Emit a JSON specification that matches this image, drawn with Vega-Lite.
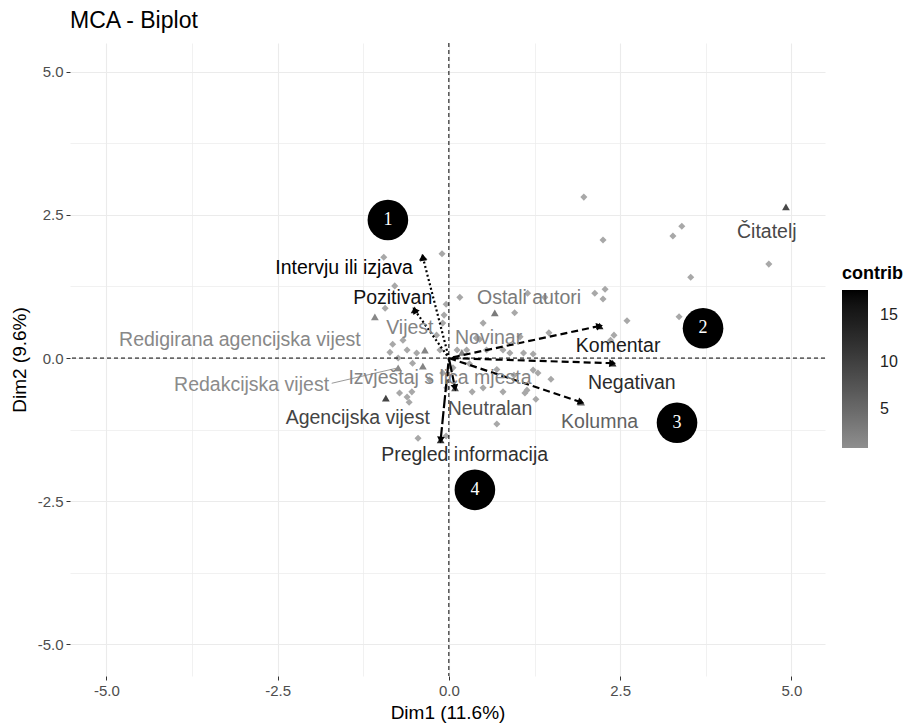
{
  "$schema": "https://vega.github.io/schema/vega-lite/v6.json",
  "width": 755,
  "height": 633,
  "autosize": {"type": "none"},
  "padding": {"left": 70, "top": 43, "right": 90, "bottom": 47},
  "background": "white",
  "config": {"view": {"stroke": null}, "font": "Liberation Sans"},
  "title": {"text": "MCA - Biplot", "anchor": "start", "frame": "group", "fontSize": 23, "fontWeight": "normal", "color": "#000000", "font": "Liberation Sans", "offset": 10},
  "datasets": {
    "ind": [
      {"x": 1.97, "y": 2.81}, {"x": 2.25, "y": 2.06}, {"x": 3.27, "y": 2.13}, {"x": 3.40, "y": 2.30},
      {"x": 4.67, "y": 1.64}, {"x": 3.53, "y": 1.41}, {"x": 2.13, "y": 1.13}, {"x": 2.28, "y": 1.20},
      {"x": 2.25, "y": 1.03}, {"x": 2.60, "y": 0.65}, {"x": 3.36, "y": 0.72}, {"x": 2.41, "y": 0.40},
      {"x": 2.36, "y": 0.31}, {"x": 1.46, "y": 0.44}, {"x": 1.09, "y": 0.09}, {"x": 1.23, "y": 0.07},
      {"x": 1.30, "y": -0.26}, {"x": 1.49, "y": -0.37}, {"x": 1.27, "y": -0.72}, {"x": -0.10, "y": 1.82},
      {"x": -0.95, "y": 1.76}, {"x": -0.79, "y": 1.26}, {"x": -0.93, "y": 0.87}, {"x": -0.04, "y": 0.94},
      {"x": -0.07, "y": 0.75}, {"x": 0.16, "y": 1.06}, {"x": 0.50, "y": 0.61}, {"x": 0.96, "y": 0.79},
      {"x": 1.15, "y": 1.13}, {"x": 1.40, "y": 1.06}, {"x": -0.82, "y": 0.24}, {"x": -0.67, "y": 0.31},
      {"x": -0.86, "y": 0.10}, {"x": -0.74, "y": 0.00}, {"x": -0.61, "y": 0.14}, {"x": -0.47, "y": 0.09},
      {"x": 0.45, "y": 0.33}, {"x": 1.04, "y": 0.37}, {"x": 0.89, "y": 0.09}, {"x": -0.18, "y": 0.40},
      {"x": -0.09, "y": 0.61}, {"x": -0.13, "y": 0.14}, {"x": 0.26, "y": 0.14}, {"x": 0.55, "y": 0.14},
      {"x": -0.53, "y": -0.09}, {"x": -0.72, "y": -0.61}, {"x": -0.61, "y": -0.68}, {"x": -0.58, "y": -0.77},
      {"x": -0.28, "y": -0.38}, {"x": -0.45, "y": -1.40}, {"x": -0.04, "y": -1.36}, {"x": -0.03, "y": -0.52},
      {"x": 0.34, "y": -0.59}, {"x": 0.50, "y": -0.52}, {"x": 0.79, "y": -0.59}, {"x": 0.70, "y": -1.15},
      {"x": 1.11, "y": -0.61}, {"x": 0.79, "y": 0.14}, {"x": 0.12, "y": 0.14}, {"x": -0.09, "y": -0.26},
      {"x": 0.06, "y": -0.17}, {"x": -0.54, "y": -0.59}, {"x": 1.14, "y": -0.56}, {"x": 1.23, "y": -0.21},
      {"x": 0.30, "y": -0.10}, {"x": 0.70, "y": -0.20}, {"x": 0.95, "y": -0.30}, {"x": 0.40, "y": 0.35}
    ],
    "cat": [
      {"name": "Čitatelj", "x": 4.92, "y": 2.64, "contrib": 9, "lx": 4.64, "ly": 2.20},
      {"name": "Komentar", "x": 2.20, "y": 0.56, "contrib": 15, "lx": 2.47, "ly": 0.21, "group": "2"},
      {"name": "Negativan", "x": 2.39, "y": -0.09, "contrib": 12.5, "lx": 2.67, "ly": -0.44, "group": "3"},
      {"name": "Kolumna", "x": 1.93, "y": -0.77, "contrib": 6, "lx": 2.20, "ly": -1.12, "group": "3"},
      {"name": "Pregled informacija", "x": -0.12, "y": -1.43, "contrib": 12, "lx": 0.23, "ly": -1.69, "group": "4"},
      {"name": "Neutralan", "x": 0.09, "y": -0.52, "contrib": 8, "lx": 0.60, "ly": -0.89, "group": "4"},
      {"name": "Pozitivan", "x": -0.50, "y": 0.84, "contrib": 16, "lx": -0.82, "ly": 1.05, "group": "1"},
      {"name": "Intervju ili izjava", "x": -0.38, "y": 1.76, "contrib": 17.5, "lx": -1.53, "ly": 1.57, "group": "1"},
      {"name": "Agencijska vijest", "x": -0.92, "y": -0.70, "contrib": 9.5, "lx": -1.33, "ly": -1.05},
      {"name": "Redigirana agencijska vijest", "x": -1.08, "y": 0.72, "contrib": 1.5, "lx": -3.05, "ly": 0.31},
      {"name": "Vijest", "x": -0.35, "y": 0.14, "contrib": 2, "lx": -0.57, "ly": 0.52},
      {"name": "Izvještaj s lica mjesta", "x": -0.38, "y": -0.14, "contrib": 2, "lx": -0.13, "ly": -0.35},
      {"name": "Redakcijska vijest", "x": -0.74, "y": -0.17, "contrib": 1.2, "lx": -2.88, "ly": -0.47, "sx": -1.71, "sy": -0.44},
      {"name": "Ostali autori", "x": 0.67, "y": 0.79, "contrib": 3, "lx": 1.17, "ly": 1.05},
      {"name": "Novinar", "x": 0.19, "y": 0.10, "contrib": 2, "lx": 0.58, "ly": 0.35}
    ],
    "num": [
      {"n": "1", "x": -0.89, "y": 2.41},
      {"n": "2", "x": 3.71, "y": 0.52},
      {"n": "3", "x": 3.33, "y": -1.13},
      {"n": "4", "x": 0.38, "y": -2.30}
    ],
    "origin": [{"x": 0, "y": 0}]
  },
  "layer": [
    {
      "data": {"name": "ind"},
      "mark": {"type": "point", "shape": "diamond", "filled": true, "color": "#a8a8a8", "size": 50, "opacity": 1},
      "encoding": {
        "x": {"field": "x", "type": "quantitative", "title": "Dim1 (11.6%)",
          "scale": {"domain": [-5.53, 5.49], "nice": false, "zero": false},
          "axis": {
            "values": [-5, -3.75, -2.5, -1.25, 0, 1.25, 2.5, 3.75, 5],
            "labelExpr": "datum.value % 2.5 == 0 ? replace(format(datum.value, '.1f'), '−', '-') : ''",
            "tickOpacity": {"condition": {"test": "datum.value % 2.5 != 0", "value": 0}, "value": 1},
            "gridWidth": {"condition": {"test": "datum.value % 2.5 != 0", "value": 0.7}, "value": 1.1},
            "gridColor": "#ebebeb", "domain": false, "tickColor": "#333333", "tickSize": 4, "tickWidth": 1,
            "labelColor": "#4d4d4d", "labelFontSize": 15, "labelPadding": 3, "labelFont": "Liberation Sans",
            "titleFontSize": 19, "titleColor": "#000000", "titleFontWeight": "normal", "titleFont": "Liberation Sans", "titlePadding": 5
          }
        },
        "y": {"field": "y", "type": "quantitative", "title": "Dim2 (9.6%)",
          "scale": {"domain": [-5.55, 5.5], "nice": false, "zero": false},
          "axis": {
            "values": [-5, -3.75, -2.5, -1.25, 0, 1.25, 2.5, 3.75, 5],
            "labelExpr": "datum.value % 2.5 == 0 ? replace(format(datum.value, '.1f'), '−', '-') : ''",
            "tickOpacity": {"condition": {"test": "datum.value % 2.5 != 0", "value": 0}, "value": 1},
            "gridWidth": {"condition": {"test": "datum.value % 2.5 != 0", "value": 0.7}, "value": 1.1},
            "gridColor": "#ebebeb", "domain": false, "tickColor": "#333333", "tickSize": 4, "tickWidth": 1,
            "labelColor": "#4d4d4d", "labelFontSize": 15, "labelPadding": 3, "labelFont": "Liberation Sans",
            "titleFontSize": 19, "titleColor": "#000000", "titleFontWeight": "normal", "titleFont": "Liberation Sans", "titlePadding": 8
          }
        }
      }
    },
    {
      "data": {"name": "origin"},
      "mark": {"type": "rule", "color": "#000000", "strokeDash": [4, 3], "strokeWidth": 1},
      "encoding": {"x": {"field": "x", "type": "quantitative"}}
    },
    {
      "data": {"name": "origin"},
      "mark": {"type": "rule", "color": "#000000", "strokeDash": [4, 3], "strokeWidth": 1},
      "encoding": {"y": {"field": "y", "type": "quantitative"}}
    },
    {
      "data": {"name": "cat"},
      "transform": [{"filter": "isValid(datum.sx)"}],
      "mark": {"type": "rule", "color": "#9a9a9a", "strokeWidth": 1},
      "encoding": {
        "x": {"field": "sx", "type": "quantitative"},
        "y": {"field": "sy", "type": "quantitative"},
        "x2": {"field": "x"},
        "y2": {"field": "y"}
      }
    },
    {
      "data": {"name": "cat"},
      "mark": {"type": "point", "shape": "triangle-up", "filled": true, "size": 60, "opacity": 1},
      "encoding": {
        "x": {"field": "x", "type": "quantitative"},
        "y": {"field": "y", "type": "quantitative"},
        "color": {"field": "contrib", "type": "quantitative",
          "scale": {"domain": [0.84, 17.7], "range": ["#8e8e8e", "#000000"]},
          "legend": {"title": "contrib", "orient": "none", "legendX": 772, "legendY": 222, "direction": "vertical",
            "gradientLength": 158, "gradientThickness": 26, "gradientStrokeWidth": 0, "values": [5, 10, 15],
            "titleFontSize": 18, "titleFontWeight": "bold", "titleColor": "#000000", "titleFont": "Liberation Sans", "titlePadding": 7,
            "labelFontSize": 16, "labelColor": "#222222", "labelFont": "Liberation Sans", "labelOffset": 12}
        }
      }
    },
    {
      "data": {"name": "cat"},
      "transform": [{"filter": "isValid(datum.group)"}],
      "mark": {"type": "rule", "color": "#000000", "strokeWidth": 2.2},
      "encoding": {
        "x": {"field": "x", "type": "quantitative"},
        "y": {"field": "y", "type": "quantitative"},
        "x2": {"datum": 0},
        "y2": {"datum": 0},
        "strokeDash": {"field": "group", "type": "nominal", "legend": null,
          "scale": {"domain": ["1", "2", "3", "4"], "range": [[2, 2.5], [7, 4], [7, 4], [13, 3]]}}
      }
    },
    {
      "data": {"name": "cat"},
      "transform": [
        {"filter": "isValid(datum.group)"},
        {"calculate": "atan2(datum.x * 68.5, datum.y * 57.3) * 180 / PI", "as": "ang"}
      ],
      "mark": {"type": "point", "shape": "triangle-up", "filled": true, "color": "#000000", "size": 60, "opacity": 1},
      "encoding": {
        "x": {"field": "x", "type": "quantitative"},
        "y": {"field": "y", "type": "quantitative"},
        "angle": {"field": "ang", "type": "quantitative", "scale": null}
      }
    },
    {
      "data": {"name": "cat"},
      "mark": {"type": "text", "fontSize": 19.5, "font": "Liberation Sans", "align": "center", "baseline": "middle"},
      "encoding": {
        "x": {"field": "lx", "type": "quantitative"},
        "y": {"field": "ly", "type": "quantitative"},
        "text": {"field": "name", "type": "nominal"},
        "color": {"field": "contrib", "type": "quantitative"}
      }
    },
    {
      "data": {"name": "num"},
      "mark": {"type": "point", "shape": "circle", "filled": true, "color": "#000000", "size": 1650, "opacity": 1},
      "encoding": {
        "x": {"field": "x", "type": "quantitative"},
        "y": {"field": "y", "type": "quantitative"}
      }
    },
    {
      "data": {"name": "num"},
      "mark": {"type": "text", "color": "#ffffff", "fontSize": 18, "font": "Liberation Serif", "align": "center", "baseline": "middle"},
      "encoding": {
        "x": {"field": "x", "type": "quantitative"},
        "y": {"field": "y", "type": "quantitative"},
        "text": {"field": "n", "type": "nominal"}
      }
    }
  ]
}
